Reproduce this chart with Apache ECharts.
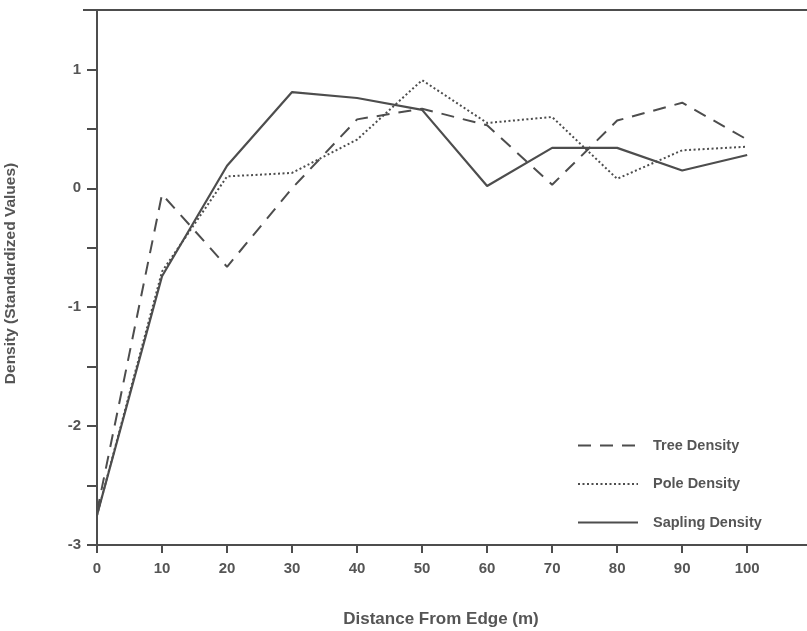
<!DOCTYPE html>
<html>
<head>
<meta charset="utf-8">
<script src="https://cdn.jsdelivr.net/npm/echarts@6/dist/echarts.min.js"></script>
<style>
html,body{margin:0;padding:0;background:#fff;}
#chart{width:807px;height:631px;}
</style>
</head>
<body>
<div id="chart"></div>
<script>
var distances = [0, 10, 20, 30, 40, 50, 60, 70, 80, 90, 100];
var treeDensity = [-2.72, -0.05, -0.66, 0.0, 0.58, 0.67, 0.53, 0.03, 0.57, 0.72, 0.41];
var poleDensity = [-2.75, -0.70, 0.10, 0.13, 0.41, 0.91, 0.55, 0.60, 0.08, 0.32, 0.35];
var saplingDensity = [-2.75, -0.74, 0.19, 0.81, 0.76, 0.66, 0.02, 0.34, 0.34, 0.15, 0.28];
var seriesNames = ['Tree Density', 'Pole Density', 'Sapling Density'];
var xTitle = 'Distance From Edge (m)';
var yTitle = 'Density (Standardized Values)';

function pairs(xs, ys) { return xs.map(function (x, i) { return [x, ys[i]]; }); }

var FONT = '"Liberation Sans", Arial, Helvetica, sans-serif';
var TXT = '#555';
var LINE = '#4d4d4d';

var chart = echarts.init(document.getElementById('chart'), null, {renderer: 'canvas'});
chart.setOption({
  animation: false,
  backgroundColor: '#fff',
  grid: {left: 97, right: 0, top: 10, bottom: 86, containLabel: false, outerBoundsMode: 'none'},
  legend: {
    orient: 'vertical',
    left: 572,
    top: 433,
    itemWidth: 60,
    itemHeight: 14,
    itemGap: 23.5,
    data: seriesNames,
    itemStyle: {opacity: 0},
    textStyle: {fontFamily: FONT, fontWeight: 'bold', fontSize: 14.5, color: TXT, padding: [0, 0, 4, 10]}
  },
  xAxis: {
    type: 'value',
    min: 0,
    max: 109.2,
    interval: 10,
    splitLine: {show: false},
    axisLine: {onZero: false, lineStyle: {color: LINE, width: 2}},
    axisTick: {length: 8, lineStyle: {color: LINE, width: 2}},
    axisLabel: {showMaxLabel: false, margin: 16, fontFamily: FONT, fontWeight: 'bold', fontSize: 15, color: TXT},
    name: xTitle,
    nameLocation: 'middle',
    nameGap: 66,
    nameTextStyle: {fontFamily: FONT, fontWeight: 'bold', fontSize: 17, color: TXT, padding: [0, 22, 0, 0]}
  },
  yAxis: {
    type: 'value',
    min: -3,
    max: 1.5,
    interval: 0.5,
    splitLine: {show: false},
    axisLine: {onZero: false, lineStyle: {color: LINE, width: 2}},
    axisTick: {length: 10, lineStyle: {color: LINE, width: 2}},
    axisLabel: {
      margin: 16,
      fontFamily: FONT, fontWeight: 'bold', fontSize: 15, color: TXT,
      formatter: function (v) { return (Math.abs(v - Math.round(v)) < 1e-9 && v < 1.5) ? String(Math.round(v)) : ''; }
    },
    name: yTitle,
    nameLocation: 'middle',
    nameGap: 78,
    nameTextStyle: {fontFamily: FONT, fontWeight: 'bold', fontSize: 15.5, color: TXT, padding: [0, 0, 0, 8]}
  },
  graphic: [{
    type: 'line',
    shape: {x1: 83, y1: 10, x2: 807, y2: 10},
    style: {stroke: LINE, lineWidth: 2}
  }],
  series: [
    {name: seriesNames[0], type: 'line', symbol: 'none', data: pairs(distances, treeDensity),
     lineStyle: {color: LINE, width: 2, type: [13, 9]}, itemStyle: {color: LINE}},
    {name: seriesNames[1], type: 'line', symbol: 'none', data: pairs(distances, poleDensity),
     lineStyle: {color: LINE, width: 2, type: [2, 2.5]}, itemStyle: {color: LINE}},
    {name: seriesNames[2], type: 'line', symbol: 'none', data: pairs(distances, saplingDensity),
     lineStyle: {color: LINE, width: 2.2, type: 'solid'}, itemStyle: {color: LINE}}
  ]
});
</script>
</body>
</html>
